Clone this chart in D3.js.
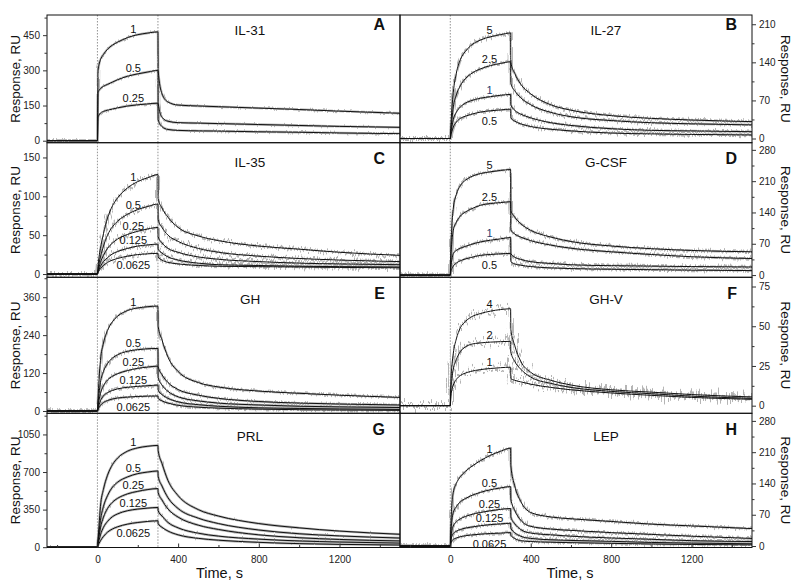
<!DOCTYPE html>
<html><head><meta charset="utf-8">
<script src="https://cdn.jsdelivr.net/npm/d3@7"></script>
<style>body{margin:0;background:#fff;} svg{display:block;font-family:Arial,"Liberation Sans",sans-serif;}</style>
</head><body><svg id="c" width="797" height="584"></svg>
<script>
// ---------- data ----------
const time = [-250,0,3,8,15,30,50,75,100,150,200,250,300,301,320,350,400,500,600,800,1000,1200,1500];
const timeTicks = [0,400,800,1200];
const timeMinor = [-200,200,600,1000,1400];

const concA = ["1","0.5","0.25"];
const respA = [
 [0,0,300,325,345,368,390,408,420,440,452,459,464,300,200,165,152,148,145,139,133,126,117],
 [0,0,205,215,222,232,240,250,260,275,285,293,300,160,100,83,77,75,73,69,65,61,57],
 [0,0,100,110,118,125,130,135,140,148,153,157,160,90,60,48,44,42,41,38,36,33,30]
];
const ticksA = [0,150,300,450], minorA = [75,225,375,525];

const concB = ["5","2.5","1","0.5"];
const respB = [
 [0,0,25,55,85,120,145,160,170,181,187,191,194,140,120,100,82,62,52,42,37,34,31],
 [0,0,15,35,58,80,97,110,118,128,134,138,141,101,88,75,62,48,40,33,29,27,25],
 [0,0,10,22,35,48,58,65,69,74,77,79.5,81,62,52,45,38,29,24,18,15,14,12.5],
 [0,0,6,13,21,30,37,41,44,48.5,51,52.5,54,38,32,27,22,17,14,10,8.5,7.5,6.5]
];
const ticksB = [0,70,140,210], minorB = [35,105,175];

const concC = ["1","0.5","0.25","0.125","0.0625"];
const respC = [
 [0,0,10,22,33,52,72,88,98,111,119,124,128,97,85,73,60,49,43,36,32,28,24],
 [0,0,6,14,22,36,50,61,68,77,83,87,90,70,60,50,42,33,28,23,20,18,16],
 [0,0,4,9,15,24,33,40,45,51,55,58,60,48,40,33,28,22,19,16,14,13,12],
 [0,0,3,6,10,16,21,26,29,33,36,37.5,38.5,32,27,22,18,14,12,11,10,9.5,9],
 [0,0,2,4,7,11,15,18,20,23,25,26,26.6,22,18,15,13,11,10,9.5,9,8.5,8]
];
const ticksC = [0,50,100,150], minorC = [25,75,125];

const concD = ["5","2.5","1","0.5"];
const respD = [
 [0,0,60,110,150,180,200,212,219,227,231,234,236,145,130,115,100,85,75,65,59,55,52],
 [0,0,40,75,100,118,132,141,147,156,160,162,164,101,92,85,77,67,60,52,46,41,37],
 [0,0,18,35,48,55,60,64,68,74,78,81,84,48,40,35,30,26,23,21,20,19,18],
 [0,0,8,14,20,27,32,36,39,44,46,47.5,48.5,30,25,22,19,16,14.5,13,12,11,10]
];
const ticksD = [0,70,140,210,280], minorD = [35,105,175,245];

const concE = ["1","0.5","0.25","0.125","0.0625"];
const respE = [
 [0,0,40,100,160,215,255,283,300,318,326,330,332,268,225,170,125,90,76,63,56,50,43],
 [0,0,25,55,90,125,150,168,178,189,194,197,198,140,115,90,68,50,40,30,25,22,19],
 [0,0,15,35,55,80,98,110,118,128,135,139,142,105,82,62,45,32,25,19,15,13,11],
 [0,0,8,20,32,48,58,65,70,75,78,80,82,66,52,40,29,20,15,10,8,6.5,5],
 [0,0,5,11,18,27,33,38,41,44,46,47,47.5,40,32,25,18,12,9,6,4,3,2]
];
const ticksE = [0,120,240,360], minorE = [60,180,300,420];

const concF = ["4","2","1"];
const respF = [
 [0,0,15,25,33,42,49,53,55.5,58,59.5,60.5,61,48,38,28,21,16,13,10,8.5,7,5.5],
 [0,0,10,17,23,29,34,37,38.5,39.5,40,40.3,40.5,34,28,23,18,14,11.5,9,7.5,6,4.6],
 [0,0,6,10,13,16.5,19,20.5,21.5,22.7,23.4,23.9,24.2,17,16,15,13.5,11.5,10,8,6.5,5.2,4]
];
const ticksF = [0,25,50,75], minorF = [12.5,37.5,62.5];

const concG = ["1","0.5","0.25","0.125","0.0625"];
const respG = [
 [0,0,80,200,380,540,670,770,830,895,925,940,948,900,780,620,480,350,290,220,180,150,120],
 [0,0,60,140,250,380,480,560,605,655,685,700,710,660,570,460,360,270,220,160,125,105,85],
 [0,0,45,100,180,280,360,420,455,497,520,537,546,510,440,355,280,205,165,115,88,72,58],
 [0,0,30,65,115,185,240,285,310,340,355,364,370,340,290,230,180,130,103,75,58,48,38],
 [0,0,15,35,60,100,140,170,190,215,230,240,246,220,185,150,115,82,65,45,33,26,20]
];
const ticksG = [0,350,700,1050], minorG = [175,525,875,1225];

const concH = ["1","0.5","0.25","0.125","0.0625"];
const respH = [
 [0,0,50,95,120,140,155,167,176,191,203,212,219,180,135,100,75,65,61,55,49,45,39],
 [0,0,30,58,75,88,99,106,112,120,126,130,133,105,80,58,44,38,35,30,26,22,17],
 [0,0,18,35,45,54,61,66,70,75,79,82,84,65,50,37,29,25,22,18,15,12,10],
 [0,0,12,22,28,33,37,40,42,45.5,48,49.5,51,40,30,22,17,14,12.5,10.5,8,6.5,5],
 [0,0,6,12,15,18,21,23,24.5,26.5,28,29,30,24,17,12,10,8.5,7.5,6,4.5,3.5,2.5]
];
const ticksH = [0,70,140,210,280], minorH = [35,105,175,245];

const letters = ["A","B","C","D","E","F","G","H"];
const names = ["IL-31","IL-27","IL-35","G-CSF","GH","GH-V","PRL","LEP"];

// ---------- layout ----------
const colX = [[47,400],[400,752]];
const rowY = [15,142.7,277.3,413.3,547.5];
const panels = [
 {conc:concA, resp:respA, ticks:ticksA, minor:minorA, dom:[-8.5,536], noise:3},
 {conc:concB, resp:respB, ticks:ticksB, minor:minorB, dom:[-7.7,227], noise:7},
 {conc:concC, resp:respC, ticks:ticksC, minor:minorC, dom:[-4.2,169], noise:11},
 {conc:concD, resp:respD, ticks:ticksD, minor:minorD, dom:[-5,296], noise:7},
 {conc:concE, resp:respE, ticks:ticksE, minor:minorE, dom:[-7.3,423], noise:5},
 {conc:concF, resp:respF, ticks:ticksF, minor:minorF, dom:[-4.8,80.8], noise:22},
 {conc:concG, resp:respG, ticks:ticksG, minor:minorG, dom:[-3,1247], noise:2},
 {conc:concH, resp:respH, ticks:ticksH, minor:minorH, dom:[-3.3,297], noise:6}
];
const letterBase = [30,163.5,299,435];
const nameBase = [35,167,304,441];

const svg = d3.select("#c");
const defs = svg.append("defs");

function interp(arr, t){
  for(let i=0;i<time.length-1;i++){
    if(t>=time[i] && t<=time[i+1]){
      const f=(t-time[i])/(time[i+1]-time[i]);
      return arr[i]+(arr[i+1]-arr[i])*f;
    }
  }
  return arr[arr.length-1];
}

panels.forEach((p,i)=>{
  const col = i%2, row = Math.floor(i/2);
  const [x0,x1] = colX[col];
  const y0 = rowY[row], y1 = rowY[row+1];
  const x = d3.scaleLinear().domain([-250,1500]).range([x0,x1]);
  const y = d3.scaleLinear().domain(p.dom).range([y1,y0]);
  const g = svg.append("g");
  const cid = "clip"+i;
  defs.append("clipPath").attr("id",cid).append("rect")
     .attr("x",x0).attr("y",y0).attr("width",x1-x0).attr("height",y1-y0);
  // texture filter for the measured (grey) traces
  const fid = "noise"+i;
  const f = defs.append("filter").attr("id",fid).attr("filterUnits","userSpaceOnUse")
     .attr("x",x0-10).attr("y",y0-10).attr("width",x1-x0+20).attr("height",y1-y0+20);
  f.append("feTurbulence").attr("type","fractalNoise").attr("baseFrequency","0.7 0.04")
     .attr("numOctaves",2).attr("seed",i+2).attr("result","t");
  f.append("feDisplacementMap").attr("in","SourceGraphic").attr("in2","t")
     .attr("scale",p.noise).attr("xChannelSelector","R").attr("yChannelSelector","G");

  // dotted injection lines
  const vlines = col===0 ? [0,300] : [0];
  vlines.forEach(t=>{
    g.append("line").attr("x1",x(t)).attr("x2",x(t)).attr("y1",y0).attr("y2",y1)
     .attr("stroke","#777").attr("stroke-width",0.8).attr("stroke-dasharray","1.5,1.5");
  });

  const line = d3.line().x((d,k)=>x(time[k])).y(d=>y(d)).curve(d3.curveMonotoneX);
  const cg = g.append("g").attr("clip-path",`url(#${cid})`);
  // grey measured traces
  const gg = cg.append("g").attr("filter",`url(#${fid})`);
  p.resp.forEach(r=>{
    gg.append("path").attr("d",line(r)).attr("fill","none")
      .attr("stroke","#b5b5b5").attr("stroke-width",p.noise>10?2.2:2.4).attr("stroke-linejoin","round");
  });
  // black fits
  p.resp.forEach(r=>{
    cg.append("path").attr("d",line(r)).attr("fill","none")
      .attr("stroke","#111").attr("stroke-width",1);
  });

  // curve labels
  const tl = col===0 ? 178 : 195;
  const n = p.conc.length;
  p.conc.forEach((c,k)=>{
    const v = interp(p.resp[k], tl);
    const below = (k===n-1 && n>=4);
    g.append("text").attr("x",x(tl)).attr("y",y(v)+(below?14:-3))
      .attr("text-anchor","middle").attr("font-size",11)
      .attr("fill", (c==="1" && (i===1||i===3)) ? "#24406e" : "#111").text(c);
  });

  // frame
  g.append("rect").attr("x",x0).attr("y",y0).attr("width",x1-x0).attr("height",y1-y0)
   .attr("fill","none").attr("stroke","#111").attr("stroke-width",1);

  // y axis
  const ax = col===0 ? d3.axisLeft(y) : d3.axisRight(y);
  const axG = g.append("g").attr("transform",`translate(${col===0?x0:x1},0)`)
    .call(ax.tickValues(p.ticks).tickSize(4).tickPadding(3).tickFormat(d3.format("d")));
  axG.select(".domain").remove();
  axG.selectAll("text").attr("font-size",10).attr("fill","#222").attr("font-family","Arial, 'Liberation Sans', sans-serif");
  axG.selectAll("line").attr("stroke","#333");
  const mG = g.append("g").attr("transform",`translate(${col===0?x0:x1},0)`)
    .call((col===0?d3.axisLeft(y):d3.axisRight(y)).tickValues(p.minor).tickSize(2.5).tickFormat(""));
  mG.select(".domain").remove();
  mG.selectAll("line").attr("stroke","#333");

  // x axis on bottom row
  if(row===3){
    const xa = g.append("g").attr("transform",`translate(0,${y1})`)
      .call(d3.axisBottom(x).tickValues(timeTicks).tickFormat(d3.format("d")).tickSizeInner(-4).tickSizeOuter(0).tickPadding(8));
    xa.select(".domain").remove();
    xa.selectAll("text").attr("font-size",10).attr("fill","#222").attr("font-family","Arial, 'Liberation Sans', sans-serif");
    xa.selectAll("line").attr("stroke","#333");
    const xm = g.append("g").attr("transform",`translate(0,${y1})`)
      .call(d3.axisBottom(x).tickValues(timeMinor).tickSizeInner(-2.5).tickSizeOuter(0).tickFormat(""));
    xm.select(".domain").remove();
    xm.selectAll("line").attr("stroke","#333");
    g.append("text").attr("x",(x0+x1)/2 - (col===0?4:6)).attr("y",578).attr("text-anchor","middle")
      .attr("font-size",14.5).attr("fill","#111").text("Time, s");
  }

  // title and letter
  g.append("text").attr("x",col===0?250:606).attr("y",nameBase[row]).attr("text-anchor","middle")
    .attr("font-size",13.5).attr("fill","#111").text(names[i]);
  g.append("text").attr("x",x1-15).attr("y",letterBase[row]).attr("text-anchor","end")
    .attr("font-size",16).attr("font-weight","bold").attr("fill","#111").text(letters[i]);

  // y title
  const cy = (y0+y1)/2;
  if(col===0){
    g.append("text").attr("transform",`translate(15,${cy}) rotate(-90)`).attr("text-anchor","middle")
      .attr("dominant-baseline","central").attr("font-size",13.5).attr("fill","#111").text("Response, RU");
  } else {
    g.append("text").attr("transform",`translate(785,${cy}) rotate(90)`).attr("text-anchor","middle")
      .attr("dominant-baseline","central").attr("font-size",13.5).attr("fill","#111").text("Response, RU");
  }
});
</script></body></html>
